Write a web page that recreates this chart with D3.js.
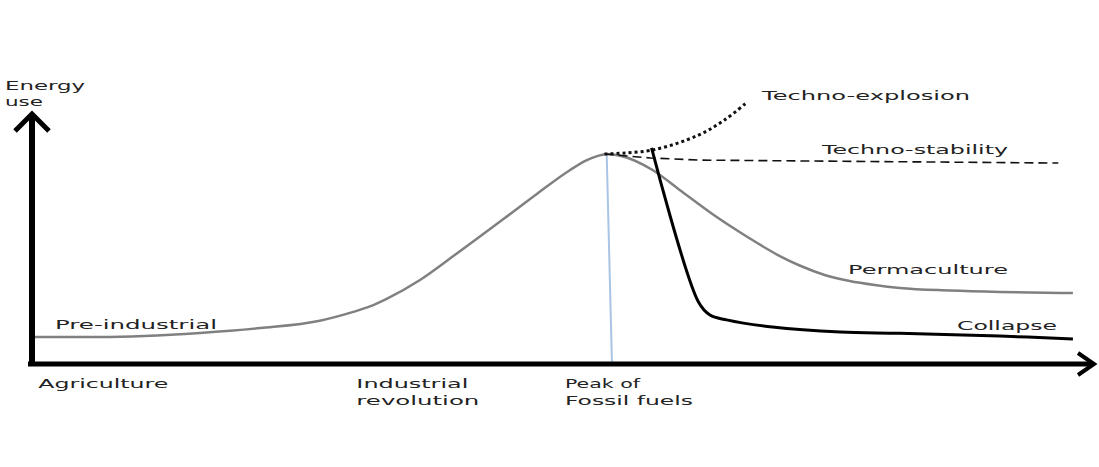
<!DOCTYPE html>
<html>
<head>
<meta charset="utf-8">
<script src="https://cdn.jsdelivr.net/npm/d3@7"></script>
<style>
  body { margin: 0; background: #fff; }
  .lbl { font-family: "DejaVu Sans", sans-serif; font-size: 13px; fill: #222; }
</style>
</head>
<body>
<div id="chart"></div>
<script>
// time runs 0..100 along the axis, energy use 0..100 with 100 = fossil peak
let mainCurve = [
  [0, 12.9], [6.5, 12.9], [16.1, 14.8], [21.9, 17.1], [27.6, 20.6], [30.8, 24.8],
  [32.4, 27.4], [34.0, 31.0], [37.2, 40.0], [40.4, 51.4], [45.2, 69.0], [48.4, 81.0],
  [51.6, 92.4], [53.2, 97.1], [54.2, 99.0], [55.1, 100],
  [56.4, 99.2], [59.5, 92.4], [62.1, 82.9], [65.3, 71.2], [68.6, 60.5],
  [71.7, 51.4], [73.6, 46.9], [76.0, 42.4], [78.4, 39.5], [80.8, 37.6],
  [83.2, 36.2], [88.0, 35.0], [92.8, 34.3], [99.8, 33.8]
];
let collapse = [
  [59.4, 102.9], [63.9, 29.5], [65.0, 23.3], [66.6, 21.0], [71.0, 17.6],
  [77.5, 15.2], [83.2, 14.6], [92.8, 13.3], [99.8, 11.9]
];
let technoExplosion = [[54.9, 100], [59.5, 101.9], [63.9, 109.0], [66.4, 116.2], [68.6, 124.8]];
let technoStability = [[54.9, 100], [59.3, 98.1], [64.0, 97.1], [73.6, 96.7], [98.4, 95.7]];
let peakLine = [[55.1, 100], [55.6, 1]];

let eraNames = [["Agriculture"], ["Industrial", "revolution"], ["Peak of", "Fossil fuels"]];
let eraTimes = [0.6, 31.1, 51.1];
let scenarioNames = ["Pre-industrial", "Techno-explosion", "Techno-stability", "Permaculture", "Collapse"];

const width = 1099, height = 467;
let svg = d3.select("#chart").append("svg")
  .attr("width", width)
  .attr("height", height);

let x = d3.scaleLinear().domain([0, 100]).range([32, 1075]);
let y = d3.scaleLinear().domain([0, 100]).range([364, 154]);

let line = d3.line().x(d => x(d[0])).y(d => y(d[1]));

// blue marker at the peak
svg.append("path")
  .attr("d", line(peakLine))
  .attr("fill", "none")
  .attr("stroke", "#a9c4e4")
  .attr("stroke-width", 2);

// main energy curve
svg.append("path")
  .attr("d", line.curve(d3.curveMonotoneX)(mainCurve))
  .attr("fill", "none")
  .attr("stroke", "#808080")
  .attr("stroke-width", 2.5);

svg.append("path")
  .attr("d", line.curve(d3.curveLinear)(technoStability))
  .attr("fill", "none")
  .attr("stroke", "#111")
  .attr("stroke-width", 1.6)
  .attr("stroke-dasharray", "9 5");

svg.append("path")
  .attr("d", line.curve(d3.curveCatmullRom)(technoExplosion))
  .attr("fill", "none")
  .attr("stroke", "#111")
  .attr("stroke-width", 3)
  .attr("stroke-dasharray", "3 3");

svg.append("path")
  .attr("d", line.curve(d3.curveCatmullRom)(collapse))
  .attr("fill", "none")
  .attr("stroke", "#000")
  .attr("stroke-width", 3);

// axes: thick arrows, no ticks
let axes = svg.append("g")
  .attr("fill", "none")
  .attr("stroke", "#000")
  .attr("stroke-linecap", "butt");

axes.append("line")
  .attr("x1", x(0)).attr("y1", y(0) + 2)
  .attr("x2", x(0)).attr("y2", 116)
  .attr("stroke-width", 6);
axes.append("path")
  .attr("d", `M${x(0) - 17},131 L${x(0)},114 L${x(0) + 17},131`)
  .attr("stroke-width", 5);

axes.append("line")
  .attr("x1", x(0) - 4).attr("y1", y(0))
  .attr("x2", 1093).attr("y2", y(0))
  .attr("stroke-width", 5);
axes.append("path")
  .attr("d", `M1078,${y(0) - 11} L1094,${y(0)} L1078,${y(0) + 11}`)
  .attr("stroke-width", 4);

function label(txt, px, py, len) {
  svg.append("text")
    .attr("class", "lbl")
    .attr("x", px).attr("y", py)
    .attr("textLength", len)
    .attr("lengthAdjust", "spacingAndGlyphs")
    .text(txt);
}

// y axis title
label("Energy", 5, 90, 80);
label("use", 5, 106, 38);

// era labels under the axis
let eraWidths = [[130], [112, 123], [75, 128]];
eraNames.forEach((lines, i) => {
  lines.forEach((t, j) => label(t, x(eraTimes[i]), 388 + j * 17, eraWidths[i][j]));
});

// scenario labels
label(scenarioNames[0], 55, 329, 162);
label(scenarioNames[1], 762, 100, 208);
label(scenarioNames[2], 822, 154, 186);
label(scenarioNames[3], 848, 274, 160);
label(scenarioNames[4], 957, 330, 100);
</script>
</body>
</html>
